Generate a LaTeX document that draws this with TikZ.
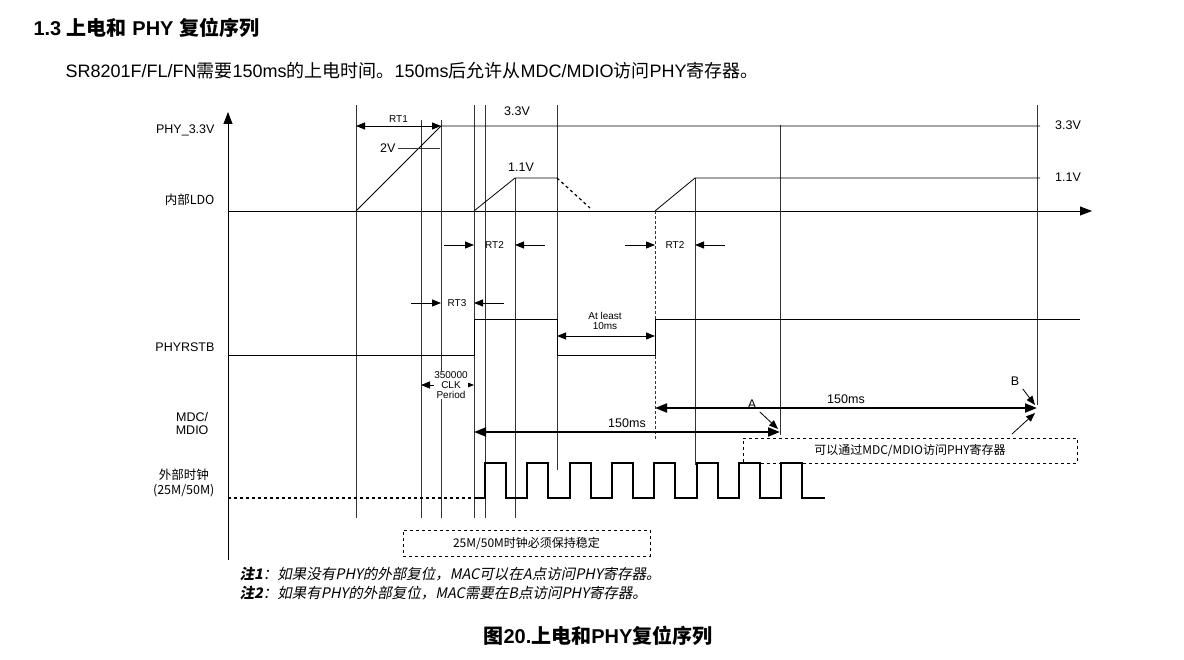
\documentclass[tikz,border=0pt]{standalone}
\usepackage{fontspec}
\setmainfont{Liberation Sans}
\newfontfamily\cjk{Noto Sans CJK SC}
\newfontfamily\cjkit{Noto Sans CJK SC}[FakeSlant=0.2]
\usetikzlibrary{arrows.meta}
\usetikzlibrary{positioning}
\begin{document}
\begin{tikzpicture}[x=1pt,y=-1pt,
    font={\fontsize{12.5pt}{13}\selectfont},
    sig/.style={line width=0.8pt},
    grid/.style={line width=0.6pt,black!80},
    dim/.style={line width=0.8pt,{Triangle[length=9pt,width=7pt]}-{Triangle[length=9pt,width=7pt]}},
    bigdim/.style={line width=2pt,{Triangle[length=12pt,width=9pt]}-{Triangle[length=12pt,width=9pt]}},
    tip/.style={line width=0.8pt,-{Triangle[length=9pt,width=7pt]}},
    lbl/.style={anchor=east,align=right},
    small/.style={font={\fontsize{10pt}{10}\selectfont}},
    dbox/.style={draw,dashed,line width=0.8pt}
    ]
  \useasboundingbox (0,0) rectangle (1184,660);
  % headings
  \node (title) [anchor=west,font={\fontsize{20pt}{21}\selectfont\bfseries}] at (30,28)
    {1.3 {\cjk 上电和} PHY {\cjk 复位序列}};
  \node (sub) [anchor=west,font={\fontsize{18pt}{19}\selectfont}] at (62,71)
    {SR8201F/FL/FN{\cjk 需要}150ms{\cjk 的上电时间。}150ms{\cjk 后允许从}MDC/MDIO{\cjk 访问}PHY{\cjk 寄存器。}};
  % axes
  \draw[sig,-{Triangle[length=12pt,width=9pt]}] (228,560) -- (228,112);
  \draw[sig,-{Triangle[length=12pt,width=9pt]}] (228,211) -- (1092,211);
  % vertical guides
  \foreach \x/\a/\b in {356/105/518,421/120/518,441/120/518,474/105/518,485/105/518,
                        515/178/518,557/105/470,695/178/465,780/125/435,1037/105/405}
    \draw[grid] (\x,\a) -- (\x,\b);
  \draw[grid,densely dashed] (655,211) -- (655,440);
  % PHY_3.3V
  \draw[sig] (356,211) -- (441,126) -- (1040,126);
  \draw[grid] (398,148) -- (440,148);
  \node (v2) [anchor=east] at (399,148) {2V};
  \node (v33a) at (517,111) {3.3V};
  \node (v33b) at (1068,125) {3.3V};
  \draw[dim] (356,126) -- (441,126) node[midway,above,small] {RT1};
  % internal LDO
  \draw[sig] (474,211) -- (515,178) -- (557,178);
  \draw[sig,dashed,line width=1.2pt] (557,178) -- (590,208);
  \draw[sig] (655,211) -- (695,178) -- (1040,178);
  \node (v11a) at (521,167) {1.1V};
  \node (v11b) at (1068,177) {1.1V};
  % RT2 / RT3 markers
  \foreach \l/\r in {474/515,655/695} {
    \draw[tip] (\l-30,245) -- (\l,245);
    \draw[tip] (\r+30,245) -- (\r,245);
    \node[small] at ({(\l+\r)/2},245) {RT2};
  }
  \draw[tip] (411,303) -- (441,303);
  \draw[tip] (504,303) -- (474,303);
  \node (rt3) [small] at (457,303) {RT3};
  % PHYRSTB
  \draw[sig] (228,355) -- (474,355) -- (474,319) -- (557,319) -- (557,355)
    -- (655,355) -- (655,319) -- (1080,319);
  \draw[dim] (557,336) -- (655,336);
  \node (least) [small,align=center] at (605,321) {At least\\10ms};
  \draw[dim] (421,385) -- (474,385);
  \node (clk) [small,align=center,fill=white,inner sep=0.5pt] at (451,385) {350000\\CLK\\Period};
  % MDC/MDIO
  \draw[bigdim] (474,432) -- (780,432) node[pos=0.5,above] {150ms};
  \draw[bigdim] (655,408) -- (1037,408) node[pos=0.5,above] {150ms};
  \node (ptA) at (752,404) {A};
  \node (ptB) at (1015,381) {B};
  \draw[tip] (ptA.south east) -- (778,429);
  \draw[tip] (ptB.south east) -- (1035,405);
  \node (acc) [dbox,minimum width=334pt,minimum height=25pt,font={\fontsize{12pt}{13}\selectfont\cjk}] at (910,450.5)
    {可以通过MDC/MDIO访问PHY寄存器};
  \draw[tip] (1012,434) -- (1035,413);
  % clock
  \draw[line width=2pt,dashed] (228,498) -- (474,498);
  \draw[line width=2pt] (474,498) -- (485,498)
    \foreach \k in {0,...,7} { -- ({485+42.3*\k},463) -- ({506+42.3*\k},463)
      -- ({506+42.3*\k},498) -- ({527.3+42.3*\k},498)}
    -- (825,498);
  \node (stable) [dbox,minimum width=247pt,minimum height=26pt,font={\fontsize{12pt}{13}\selectfont\cjk}] at (526.5,543)
    {25M/50M时钟必须保持稳定};
  % row labels
  \node (l1) [lbl] at (218,130) {PHY\_3.3V};
  \node (l2) [lbl,font={\fontsize{12.5pt}{13}\selectfont\cjk}] at (218,200) {内部LDO};
  \node (l3) [lbl] at (218,347) {PHYRSTB};
  \node (l4) [lbl,align=center] at (212,424) {MDC/\\MDIO};
  \node (l5) [lbl,align=center,font={\fontsize{12.5pt}{15}\selectfont\cjk}] at (218,483) {外部时钟\\(25M/50M)};
  % notes
  \node (n1) [anchor=west,font={\fontsize{14.5pt}{15}\selectfont\cjkit}] at (236,574)
    {\textbf{注1}：如果没有PHY的外部复位，MAC可以在A点访问PHY寄存器。};
  \node (n2) [anchor=west,font={\fontsize{14.5pt}{15}\selectfont\cjkit}] at (236,593)
    {\textbf{注2}：如果有PHY的外部复位，MAC需要在B点访问PHY寄存器。};
  \node (cap) [font={\fontsize{20pt}{21}\selectfont\bfseries}] at (598,636)
    {{\cjk 图}20.{\cjk 上电和}PHY{\cjk 复位序列}};
\end{tikzpicture}
\end{document}
